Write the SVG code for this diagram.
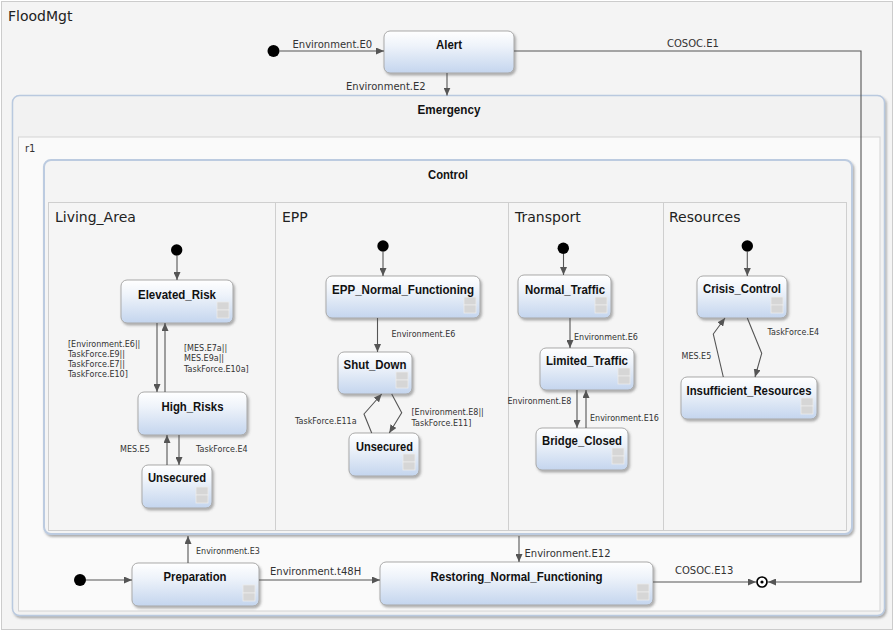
<svg xmlns="http://www.w3.org/2000/svg" width="894" height="631" viewBox="0 0 894 631">
<defs>
<linearGradient id="ng" x1="0" y1="0" x2="0" y2="1">
<stop offset="0" stop-color="#ffffff"/>
<stop offset="0.35" stop-color="#eef3fa"/>
<stop offset="1" stop-color="#c4d5ee"/>
</linearGradient>
<filter id="sh" x="-10%" y="-10%" width="130%" height="140%">
<feDropShadow dx="1.5" dy="2" stdDeviation="1.1" flood-color="#555" flood-opacity="0.45"/>
</filter>
<marker id="ah" markerWidth="8" markerHeight="7" refX="8" refY="3.5" orient="auto" markerUnits="userSpaceOnUse">
<path d="M0,0 L8,3.5 L0,7 z" fill="#555"/>
</marker>
</defs>
<style>
.node rect.b{fill:url(#ng);stroke:#a9a9a9;stroke-width:1;filter:url(#sh)}
.w{fill:#d6d6d6;stroke:#ececec;stroke-width:0.8}
.t{font-family:"Liberation Sans",Arial,sans-serif;font-weight:bold;font-size:13px;fill:#111;text-anchor:middle}
.rl{font-family:"DejaVu Sans",Verdana,sans-serif;font-size:14px;fill:#222}
.l8{font-family:"DejaVu Sans",Verdana,sans-serif;font-size:8px;fill:#333}
.l10{font-family:"DejaVu Sans",Verdana,sans-serif;font-size:10px;fill:#333}
.c{fill:none;stroke:#555;stroke-width:1.1;marker-end:url(#ah)}
.c2{fill:none;stroke:#555;stroke-width:1.1}
.init{fill:#000}
</style>
<rect x="0" y="0" width="894" height="631" fill="#ffffff"/>
<g id="FloodMgt">
<rect x="1.5" y="1.5" width="891" height="628" fill="#f4f4f4" stroke="#cccccc"/>
<text class="rl" x="8" y="21">FloodMgt</text>
</g>
<g id="Emergency">
<rect x="12.5" y="95.5" width="872" height="520" rx="7" fill="#f2f2f2" stroke="#b9c9df" stroke-width="1.5" filter="url(#sh)"/>
<text class="t" x="449" y="114" textLength="63" lengthAdjust="spacingAndGlyphs">Emergency</text>
</g>
<g id="r1">
<rect x="18.5" y="137" width="861.5" height="474" fill="#fafafa" stroke="#d4d4d4"/>
<text class="l10" x="25" y="152">r1</text>
</g>
<g id="Control">
<rect x="44" y="160" width="808" height="374" rx="7" fill="#f4f4f4" stroke="#bccbe0" stroke-width="2" filter="url(#sh)"/>
<text class="t" x="448" y="179" textLength="40" lengthAdjust="spacingAndGlyphs">Control</text>
<rect x="48.5" y="202.5" width="798" height="328" fill="#f5f5f5" stroke="#cfcfcf"/>
<line x1="275.5" y1="202.5" x2="275.5" y2="530.5" stroke="#cfcfcf"/>
<line x1="508.5" y1="202.5" x2="508.5" y2="530.5" stroke="#cfcfcf"/>
<line x1="663.5" y1="202.5" x2="663.5" y2="530.5" stroke="#cfcfcf"/>
<text class="rl" x="55" y="222">Living_Area</text>
<text class="rl" x="282" y="222">EPP</text>
<text class="rl" x="515" y="222">Transport</text>
<text class="rl" x="669" y="222">Resources</text>
</g>
<g id="init_top"><circle class="init" cx="273.5" cy="51" r="6"/></g>
<g id="init_living"><circle class="init" cx="176.7" cy="250" r="5.7"/></g>
<g id="init_epp"><circle class="init" cx="383" cy="246" r="5.7"/></g>
<g id="init_transport"><circle class="init" cx="563.3" cy="248.3" r="5.7"/></g>
<g id="init_resources"><circle class="init" cx="747.3" cy="246" r="5.7"/></g>
<g id="init_emergency"><circle class="init" cx="80" cy="580" r="6"/></g>
<g id="final"><circle cx="762" cy="582" r="5" fill="#fff" stroke="#000" stroke-width="1.7"/><circle cx="762" cy="582" r="1.6" fill="#000"/></g>
<g id="Alert" class="node"><rect class="b" x="384" y="31" width="130" height="42" rx="6"/><text class="t" x="449" y="49" textLength="26" lengthAdjust="spacingAndGlyphs">Alert</text></g>
<g id="Elevated_Risk" class="node"><rect class="b" x="121" y="280" width="112" height="43" rx="6"/><rect class="w" x="217" y="302" width="12" height="8"/><rect class="w" x="217" y="310" width="12" height="8"/><text class="t" x="177" y="299" textLength="78" lengthAdjust="spacingAndGlyphs">Elevated_Risk</text></g>
<g id="High_Risks" class="node"><rect class="b" x="138" y="392" width="109" height="43" rx="6"/><text class="t" x="192.5" y="411" textLength="62" lengthAdjust="spacingAndGlyphs">High_Risks</text></g>
<g id="Unsecured_LA" class="node"><rect class="b" x="142" y="465" width="70" height="43" rx="6"/><rect class="w" x="196" y="487" width="12" height="8"/><rect class="w" x="196" y="495" width="12" height="8"/><text class="t" x="177" y="482" textLength="58" lengthAdjust="spacingAndGlyphs">Unsecured</text></g>
<g id="EPP_Normal_Functioning" class="node"><rect class="b" x="326" y="276" width="154" height="42" rx="6"/><rect class="w" x="464" y="297" width="12" height="8"/><rect class="w" x="464" y="305" width="12" height="8"/><text class="t" x="403" y="294" textLength="142" lengthAdjust="spacingAndGlyphs">EPP_Normal_Functioning</text></g>
<g id="Shut_Down" class="node"><rect class="b" x="338" y="352" width="74" height="42" rx="6"/><rect class="w" x="396" y="372" width="12" height="8"/><rect class="w" x="396" y="380" width="12" height="8"/><text class="t" x="375" y="369" textLength="63" lengthAdjust="spacingAndGlyphs">Shut_Down</text></g>
<g id="Unsecured_EPP" class="node"><rect class="b" x="349" y="433" width="70" height="43" rx="6"/><rect class="w" x="403" y="454" width="12" height="8"/><rect class="w" x="403" y="462" width="12" height="8"/><text class="t" x="384.5" y="451" textLength="57" lengthAdjust="spacingAndGlyphs">Unsecured</text></g>
<g id="Normal_Traffic" class="node"><rect class="b" x="518" y="275" width="93" height="43" rx="6"/><rect class="w" x="595" y="297" width="12" height="8"/><rect class="w" x="595" y="305" width="12" height="8"/><text class="t" x="565" y="294" textLength="80" lengthAdjust="spacingAndGlyphs">Normal_Traffic</text></g>
<g id="Limited_Traffic" class="node"><rect class="b" x="540" y="348" width="94" height="42" rx="6"/><rect class="w" x="618" y="368" width="12" height="8"/><rect class="w" x="618" y="376" width="12" height="8"/><text class="t" x="587" y="365" textLength="82" lengthAdjust="spacingAndGlyphs">Limited_Traffic</text></g>
<g id="Bridge_Closed" class="node"><rect class="b" x="536" y="428" width="92" height="42" rx="6"/><rect class="w" x="612" y="448" width="12" height="8"/><rect class="w" x="612" y="456" width="12" height="8"/><text class="t" x="582" y="445" textLength="80" lengthAdjust="spacingAndGlyphs">Bridge_Closed</text></g>
<g id="Crisis_Control" class="node"><rect class="b" x="697" y="276" width="90" height="42" rx="6"/><rect class="w" x="771" y="297" width="12" height="8"/><rect class="w" x="771" y="305" width="12" height="8"/><text class="t" x="742" y="293" textLength="78" lengthAdjust="spacingAndGlyphs">Crisis_Control</text></g>
<g id="Insufficient_Resources" class="node"><rect class="b" x="681" y="377" width="136" height="42" rx="6"/><rect class="w" x="801" y="398" width="12" height="8"/><rect class="w" x="801" y="406" width="12" height="8"/><text class="t" x="749" y="395" textLength="125" lengthAdjust="spacingAndGlyphs">Insufficient_Resources</text></g>
<g id="Preparation" class="node"><rect class="b" x="132" y="563" width="127" height="43" rx="6"/><rect class="w" x="243" y="585" width="12" height="8"/><rect class="w" x="243" y="593" width="12" height="8"/><text class="t" x="195" y="581" textLength="63" lengthAdjust="spacingAndGlyphs">Preparation</text></g>
<g id="Restoring_Normal_Functioning" class="node"><rect class="b" x="380" y="562" width="273" height="43" rx="6"/><rect class="w" x="637" y="584" width="12" height="8"/><rect class="w" x="637" y="592" width="12" height="8"/><text class="t" x="516.5" y="581" textLength="172" lengthAdjust="spacingAndGlyphs">Restoring_Normal_Functioning</text></g>
<g id="connectors">
<path class="c" d="M279.5,51 H384"/>
<text class="l10" x="292.5" y="48">Environment.E0</text>
<path class="c" d="M514,51 H861 V582 H768"/>
<text class="l10" x="667" y="47">COSOC.E1</text>
<path class="c" d="M447,73 V95.5"/>
<text class="l10" x="346" y="90">Environment.E2</text>
<path class="c" d="M86,580 H132"/>
<path class="c" d="M188,563 V536"/>
<text class="l8" x="196" y="554">Environment.E3</text>
<path class="c" d="M259,580 H380"/>
<text class="l10" x="270" y="575">Environment.t48H</text>
<path class="c" d="M519,536 V562"/>
<text class="l10" x="524.5" y="557">Environment.E12</text>
<path class="c" d="M653,582 H756"/>
<text class="l10" x="675" y="574">COSOC.E13</text>
<path class="c" d="M177,256 V280"/>
<path class="c" d="M157,323 V392"/>
<path class="c" d="M165,392 V323"/>
<text class="l8" x="68" y="347">[Environment.E6||</text>
<text class="l8" x="68" y="357">TaskForce.E9||</text>
<text class="l8" x="68" y="367">TaskForce.E7||</text>
<text class="l8" x="68" y="377">TaskForce.E10]</text>
<text class="l8" x="184" y="351">[MES.E7a||</text>
<text class="l8" x="184" y="361">MES.E9a||</text>
<text class="l8" x="184" y="372">TaskForce.E10a]</text>
<path class="c" d="M167,465 V435"/>
<path class="c" d="M179,435 V465"/>
<text class="l8" x="120" y="452">MES.E5</text>
<text class="l8" x="196" y="452">TaskForce.E4</text>
<path class="c" d="M383,252 V276"/>
<path class="c" d="M377.5,318 V352"/>
<text class="l8" x="391.5" y="337">Environment.E6</text>
<path class="c" d="M371.7,433 L364,414 L381.7,394"/>
<path class="c" d="M391.7,394 L401.7,412.7 L389.3,433"/>
<text class="l8" x="295" y="424">TaskForce.E11a</text>
<text class="l8" x="411.5" y="415">[Environment.E8||</text>
<text class="l8" x="411.5" y="426">TaskForce.E11]</text>
<path class="c" d="M563.5,254 V275"/>
<path class="c" d="M570,318 V348"/>
<text class="l8" x="574" y="340">Environment.E6</text>
<path class="c" d="M577,390 V428"/>
<path class="c" d="M586,428 V390"/>
<text class="l8" x="507.5" y="404">Environment.E8</text>
<text class="l8" x="590" y="421">Environment.E16</text>
<path class="c" d="M747.3,252 V276"/>
<path class="c" d="M723.3,377 L713.3,334 L725,318"/>
<path class="c" d="M747.3,318 L761.7,353.3 L755,377"/>
<text class="l8" x="681.5" y="359">MES.E5</text>
<text class="l8" x="767.5" y="335">TaskForce.E4</text>
</g>
</svg>
